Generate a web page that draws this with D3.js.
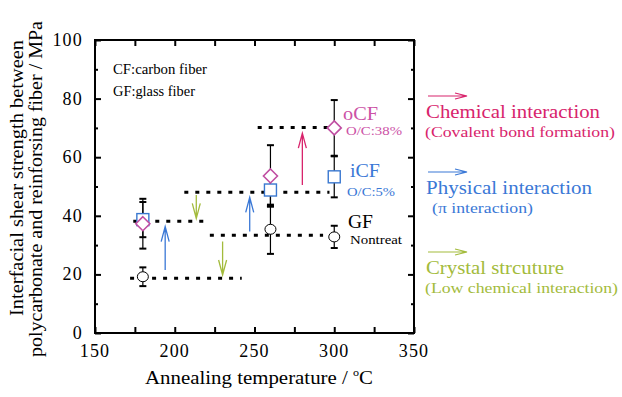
<!DOCTYPE html>
<html>
<head>
<meta charset="utf-8">
<script src="https://cdn.jsdelivr.net/npm/d3@7"></script>
<style>
  html, body { margin: 0; padding: 0; background: #fff; }
  svg { display: block; }
  text { font-family: "Liberation Serif", "Times New Roman", "DejaVu Serif", serif; }
</style>
</head>
<body>
<svg id="chart" width="622" height="397"></svg>
<script>
// ---------- data ----------
const temps = [180, 260, 300];
const gfVals = [19.2, 35.4, 32.8];
const gfErr = [3.2, 8.4, 3.8];
const icfVals = [38.7, 48.8, 53.3];
const icfErr = [6.0, 5.4, 7.0];
const ocfVals = [37.3, 53.6, 70.0];
const ocfErr = [8.5, 10.5, 9.5];

// dotted guide lines
const guideY = [18.7, 38.1, 48.0, 33.4, 70.1];
const guideX0 = [172, 174, 206, 222, 252];
const guideX1 = [242, 221, 297, 293, 299];

// vertical arrows
const arrowX = [194, 247, 280, 213.5, 230];
const arrowFrom = [21.5, 34.6, 50.5, 47.1, 31.2];
const arrowTo = [36.3, 46.3, 68.2, 39.1, 19.8];
const arrowKind = ["phys", "phys", "chem", "cryst", "cryst"];

const xTicks = [150, 200, 250, 300, 350];
const yTicks = [0, 20, 40, 60, 80, 100];

const kindColor = { chem: "#d8246c", phys: "#3a78d6", cryst: "#a3bb3c" };
const legendKinds = ["chem", "phys", "cryst"];
const legendLine1 = ["Chemical interaction", "Physical interaction", "Crystal strcuture"];
const legendLine2 = ["(Covalent bond formation)", "(\u03c0 interaction)", "(Low chemical interaction)"];

// ---------- layout ----------
const svg = d3.select("#chart");
const L = 95, R = 414, T = 40, B = 333;
const x = d3.scaleLinear().domain([150, 350]).range([L, R]);
const y = d3.scaleLinear().domain([0, 100]).range([B, T]);

function addText(g, px, py, str, size, color, width) {
  const t = g.append("text").attr("x", px).attr("y", py).attr("font-size", size)
    .attr("fill", color || "#000").text(str);
  if (width) t.attr("textLength", width).attr("lengthAdjust", "spacingAndGlyphs");
  return t;
}

// axes (ticks inward)
function tickAxis(axisGen, tr) {
  const g = svg.append("g").attr("transform", tr).call(axisGen);
  g.select(".domain").remove();
  g.selectAll("line").attr("stroke", "#000").attr("stroke-width", 2);
  g.selectAll("text").remove();
  return g;
}
tickAxis(d3.axisBottom(x).tickValues(d3.range(150, 351, 25)).tickSize(-6), `translate(0,${B})`);
tickAxis(d3.axisTop(x).tickValues(d3.range(150, 351, 25)).tickSize(-6), `translate(0,${T})`);
tickAxis(d3.axisLeft(y).tickValues(yTicks).tickSize(-6), `translate(${L},0)`);
tickAxis(d3.axisRight(y).tickValues(yTicks).tickSize(-6), `translate(${R},0)`);
tickAxis(d3.axisLeft(y).tickValues(d3.range(10, 100, 20)).tickSize(-3), `translate(${L},0)`);
tickAxis(d3.axisRight(y).tickValues(d3.range(10, 100, 20)).tickSize(-3), `translate(${R},0)`);

svg.append("rect").attr("x", L).attr("y", T).attr("width", R - L).attr("height", B - T)
  .attr("fill", "none").attr("stroke", "#000").attr("stroke-width", 2);

// tick labels
svg.append("g").selectAll("text").data(xTicks).join("text")
  .attr("x", d => x(d)).attr("y", 357).attr("text-anchor", "middle")
  .attr("font-size", 18).attr("letter-spacing", 1.2).text(d => d);
svg.append("g").selectAll("text").data(yTicks).join("text")
  .attr("x", 83).attr("y", d => y(d) + 6).attr("text-anchor", "end")
  .attr("font-size", 18).attr("letter-spacing", 1.2).text(d => d);

// axis titles
const xt = svg.append("text").attr("x", 145).attr("y", 384).attr("font-size", 19)
  .attr("textLength", 228).attr("lengthAdjust", "spacingAndGlyphs");
xt.append("tspan").text("Annealing temperature / ");
xt.append("tspan").attr("font-size", 11).attr("dy", -8).text("o");
xt.append("tspan").attr("dy", 8).text("C");

svg.append("text").attr("transform", "translate(23,316) rotate(-90)")
  .attr("font-size", 18).attr("textLength", 276).attr("lengthAdjust", "spacingAndGlyphs")
  .text("Interfacial shear strength between");
svg.append("text").attr("transform", "translate(42,357) rotate(-90)")
  .attr("font-size", 18).attr("textLength", 336).attr("lengthAdjust", "spacingAndGlyphs")
  .text("polycarbonate and reinforsing fiber / MPa");

// top-left notes
addText(svg, 113, 74, "CF:carbon fiber", 14, "#000", 94);
addText(svg, 113, 96, "GF:glass fiber", 14, "#000", 82);

// dotted guides
svg.append("g").selectAll("line").data(guideY).join("line")
  .attr("x1", (d, i) => x(guideX0[i])).attr("x2", (d, i) => x(guideX1[i]))
  .attr("y1", d => y(d)).attr("y2", d => y(d))
  .attr("stroke", "#000").attr("stroke-width", 3).attr("stroke-dasharray", "4,7");

// vertical arrows
function arrowPath(x0, y0, x1, y1, head, spread) {
  const dx = x1 - x0, dy = y1 - y0, len = Math.hypot(dx, dy);
  const ux = dx / len, uy = dy / len, px = -uy, py = ux;
  const bx = x1 - ux * head, by = y1 - uy * head;
  return `M${x0},${y0}L${x1},${y1}` +
    `M${bx + px * spread},${by + py * spread}L${x1},${y1}L${bx - px * spread},${by - py * spread}`;
}
svg.append("g").selectAll("path").data(arrowX).join("path")
  .attr("d", (d, i) => arrowPath(x(d), y(arrowFrom[i]), x(d), y(arrowTo[i]), 15, 4))
  .attr("fill", "none").attr("stroke", (d, i) => kindColor[arrowKind[i]]).attr("stroke-width", 1.3);

// error bars
function errBars(vals, errs) {
  const g = svg.append("g").attr("stroke", "#000").attr("stroke-width", 1.2);
  g.selectAll("line.v").data(vals).join("line").attr("class", "v")
    .attr("x1", (d, i) => x(temps[i])).attr("x2", (d, i) => x(temps[i]))
    .attr("y1", (d, i) => y(d - errs[i])).attr("y2", (d, i) => y(d + errs[i]));
  g.selectAll("line.t").data(vals).join("line").attr("class", "t")
    .attr("x1", (d, i) => x(temps[i]) - 3.5).attr("x2", (d, i) => x(temps[i]) + 3.5)
    .attr("y1", (d, i) => y(d + errs[i])).attr("y2", (d, i) => y(d + errs[i])).attr("stroke-width", 2);
  g.selectAll("line.b").data(vals).join("line").attr("class", "b")
    .attr("x1", (d, i) => x(temps[i]) - 3.5).attr("x2", (d, i) => x(temps[i]) + 3.5)
    .attr("y1", (d, i) => y(d - errs[i])).attr("y2", (d, i) => y(d - errs[i])).attr("stroke-width", 2);
}
errBars(gfVals, gfErr);
errBars(icfVals, icfErr);
errBars(ocfVals, ocfErr);

// markers
svg.append("g").selectAll("ellipse").data(gfVals).join("ellipse")
  .attr("cx", (d, i) => x(temps[i])).attr("cy", d => y(d)).attr("rx", 5.5).attr("ry", 5)
  .attr("fill", "#fff").attr("stroke", "#000").attr("stroke-width", 1);
svg.append("g").selectAll("rect").data(icfVals).join("rect")
  .attr("x", (d, i) => x(temps[i]) - 6).attr("y", d => y(d) - 6).attr("width", 12).attr("height", 12)
  .attr("fill", "#fff").attr("stroke", "#3a78d0").attr("stroke-width", 1.4);
svg.append("g").selectAll("path").data(ocfVals).join("path")
  .attr("d", (d, i) => { const cx = x(temps[i]), cy = y(d), r = 7;
    return `M${cx},${cy - r}L${cx + r},${cy}L${cx},${cy + r}L${cx - r},${cy}Z`; })
  .attr("fill", "#fff").attr("stroke", "#c04ea2").attr("stroke-width", 1.6);

// series labels
addText(svg, 343, 120, "oCF", 18, "#cc52a6", 35);
addText(svg, 346, 135, "O/C:38%", 13, "#cc52a6", 56);
addText(svg, 350, 177, "iCF", 18, "#3a78d6", 30);
addText(svg, 347, 196, "O/C:5%", 13, "#3a78d6", 48);
addText(svg, 348, 228, "GF", 18, "#000", 25);
addText(svg, 350, 244, "Nontreat", 13, "#000", 52);

// right-side legend
const legY = [96, 172, 252];
const leg1W = [174, 166, 138];
const leg2W = [190, 101, 193];
const lg = svg.append("g");
legendKinds.forEach((k, i) => {
  lg.append("path").attr("d", arrowPath(428, legY[i], 467, legY[i], 12, 3))
    .attr("fill", "none").attr("stroke", kindColor[k]).attr("stroke-width", 1.2);
  addText(lg, 426, legY[i] + 22, legendLine1[i], 18, kindColor[k], leg1W[i]);
  addText(lg, i === 1 ? 432 : 425, legY[i] + 41, legendLine2[i], 15, kindColor[k], leg2W[i]);
});
</script>
</body>
</html>
